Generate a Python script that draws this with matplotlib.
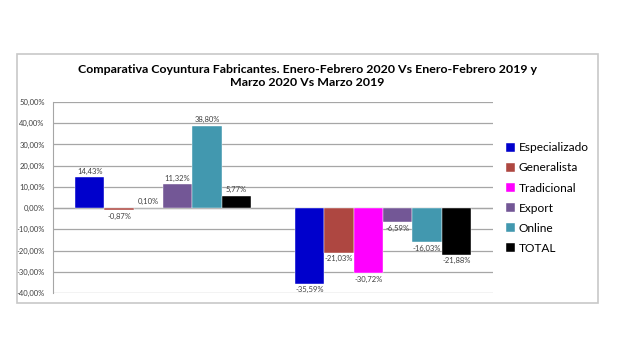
import matplotlib.pyplot as plt
import numpy as np
from matplotlib.patches import Rectangle
from matplotlib.ticker import FuncFormatter

# Data
periods = ["Enero-Febrero", "Marzo"]
series = ["Especializado", "Generalista", "Tradicional", "Export", "Online", "TOTAL"]
ene_feb = [14.43, -0.87, 0.10, 11.32, 38.80, 5.77]
marzo = [-35.59, -21.03, -30.72, -6.59, -16.03, -21.88]
colors = ["#0000CC", "#AE4741", "#FF00FF", "#735796", "#4298AF", "#000000"]

title = ("Comparativa Coyuntura Fabricantes. Enero-Febrero 2020 Vs Enero-Febrero 2019 y\n"
         "Marzo 2020 Vs Marzo 2019")


def pct(v, _pos=None):
    return f"{v:.2f}%".replace(".", ",")


def main() -> None:
    plt.rcParams["font.family"] = ["Lato", "DejaVu Sans"]
    fig = plt.figure(figsize=(6.2, 3.5), dpi=100)

    # outer chart frame
    fig.patches.append(Rectangle((17 / 620, 1 - 303 / 350), 581 / 620, 249 / 350,
                                 transform=fig.transFigure, fill=False,
                                 edgecolor="#C8C8C8", linewidth=1.2))

    ax = fig.add_axes([53 / 620, 1 - 293 / 350, 440 / 620, 191 / 350])
    x = np.arange(len(periods))
    width = 0.8 / len(series)
    values = np.array([ene_feb, marzo])
    for i, name in enumerate(series):
        pos = x - 0.4 + width * (i + 0.5)
        vals = values[:, i]
        ax.bar(pos, vals, width, color=colors[i], label=name,
               edgecolor="white", linewidth=0.3, zorder=3)
        for xp, v in zip(pos, vals):
            off = 1.2 if v >= 0 else -1.2
            ax.text(xp, v + off, pct(v), ha="center",
                    va="bottom" if v >= 0 else "top",
                    fontsize=5.5, color="#404040")

    ax.set_xlim(-0.5, 1.5)
    ax.set_ylim(-40, 50)
    ax.set_yticks(np.arange(-40, 51, 10))
    ax.yaxis.set_major_formatter(FuncFormatter(pct))
    ax.tick_params(axis="y", labelsize=5.5, colors="#404040", length=0, pad=6)
    ax.set_xticks([])
    ax.grid(axis="y", color="#A6A6A6", linewidth=0.9, zorder=0)
    for side in ["top", "right", "bottom"]:
        ax.spines[side].set_visible(False)
    ax.spines["left"].set_color("#A6A6A6")
    ax.axhline(0, color="#A6A6A6", linewidth=0.9, zorder=1)

    fig.text(0.5 * (17 + 598) / 620, 1 - 76 / 350, title, ha="center", va="center",
             fontsize=8.9, fontweight="bold", linespacing=1.3)

    ax.legend(loc="center left", bbox_to_anchor=(1.03, 0.497), frameon=False,
              fontsize=8.6, handlelength=0.75, handleheight=0.75,
              handletextpad=0.3, labelspacing=0.76, borderaxespad=0,
              borderpad=0)

    fig.savefig("out.png", dpi=100)


if __name__ == "__main__":
    main()
